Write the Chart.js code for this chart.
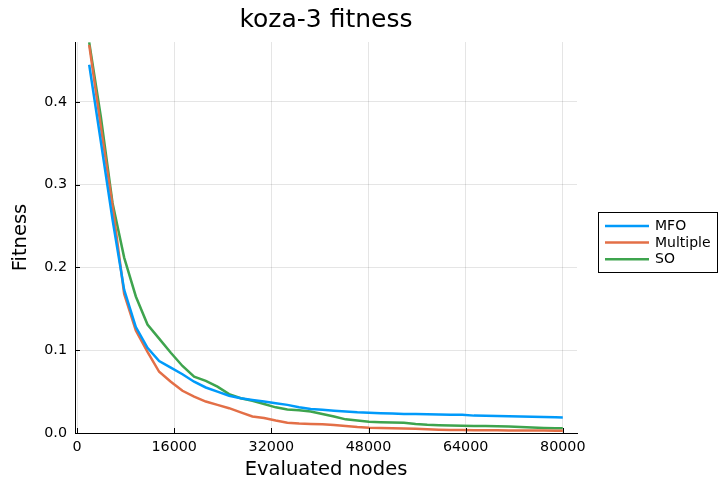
<!DOCTYPE html>
<html>
<head>
<meta charset="utf-8">
<script src="https://cdn.jsdelivr.net/npm/chart.js@4/dist/chart.umd.min.js"></script>
<style>
  html, body { margin: 0; padding: 0; background: #fff; }
  #wrap { width: 719px; height: 484px; }
</style>
</head>
<body>
<div id="wrap"><canvas id="c" width="719" height="484"></canvas></div>
<script>
// Evaluated nodes at each sample point
const evaluatedNodes = [2000, 3920, 5840, 7760, 9680, 11600, 13520, 15440, 17360, 19280,
  21200, 23120, 25040, 26960, 28880, 30800, 32720, 34640, 36560, 38480,
  40400, 42320, 44240, 46160, 48080, 50000, 51920, 53840, 55760, 57680,
  59600, 61520, 63440, 65360, 67280, 69200, 71120, 73040, 74960, 76880,
  78800, 80000];

// Mean fitness per method
const mfo = [0.445, 0.352, 0.258, 0.173, 0.128, 0.103, 0.087, 0.079, 0.071, 0.062,
  0.055, 0.050, 0.045, 0.042, 0.040, 0.038, 0.036, 0.034, 0.031, 0.029,
  0.028, 0.027, 0.026, 0.025, 0.0245, 0.024, 0.0235, 0.023, 0.023, 0.0228,
  0.0225, 0.0222, 0.022, 0.021, 0.0208, 0.0205, 0.0202, 0.0198, 0.0195, 0.0193,
  0.019, 0.0188];
const multiple = [0.469, 0.370, 0.275, 0.168, 0.124, 0.098, 0.074, 0.062, 0.051, 0.044,
  0.038, 0.034, 0.030, 0.025, 0.020, 0.018, 0.015, 0.0125, 0.0115, 0.011,
  0.0105, 0.0097, 0.0085, 0.0072, 0.0064, 0.006, 0.0058, 0.0055, 0.005, 0.0045,
  0.004, 0.0036, 0.0035, 0.0034, 0.0033, 0.0032, 0.0031, 0.003, 0.003, 0.0029,
  0.0028, 0.0028];
const so = [0.472, 0.382, 0.278, 0.212, 0.165, 0.131, 0.114, 0.097, 0.081, 0.068,
  0.063, 0.056, 0.047, 0.042, 0.039, 0.035, 0.031, 0.0285, 0.0275, 0.026,
  0.023, 0.020, 0.0165, 0.015, 0.0135, 0.013, 0.0128, 0.0125, 0.011, 0.010,
  0.0095, 0.009, 0.0088, 0.0086, 0.0085, 0.0082, 0.0078, 0.0072, 0.0065, 0.006,
  0.0058, 0.0057];

const seriesNames = ['MFO', 'Multiple', 'SO'];
const seriesColors = ['#009AFA', '#E36F47', '#3EA44E'];
const xTicks = [0, 16000, 32000, 48000, 64000, 80000];
const yTicks = [0, 0.1, 0.2, 0.3, 0.4];

const FONT = "'DejaVu Sans', 'Liberation Sans', sans-serif";
Chart.defaults.font.family = FONT;
Chart.defaults.color = '#000';

const toPoints = ys => evaluatedNodes.map((x, i) => ({ x: x, y: ys[i] }));

// Short tick marks pointing into the plot, plus the title and a boxed legend
const decorations = {
  id: 'decorations',
  afterDraw(chart) {
    const ctx = chart.ctx;
    const a = chart.chartArea;
    const xs = chart.scales.x, ys = chart.scales.y;
    ctx.save();
    ctx.strokeStyle = '#000';
    ctx.lineWidth = 1;
    ctx.beginPath();
    xTicks.forEach(v => {
      const px = Math.round(xs.getPixelForValue(v)) + 0.5;
      ctx.moveTo(px, a.bottom);
      ctx.lineTo(px, a.bottom - 5);
    });
    yTicks.forEach(v => {
      const py = Math.round(ys.getPixelForValue(v)) + 0.5;
      ctx.moveTo(a.left, py);
      ctx.lineTo(a.left + 5, py);
    });
    ctx.stroke();

    // title
    ctx.fillStyle = '#000';
    ctx.font = '25px ' + FONT;
    ctx.textAlign = 'center';
    ctx.textBaseline = 'alphabetic';
    ctx.fillText('koza-3 fitness', (a.left + a.right) / 2, 27);

    // legend
    const lx = 598.5, ly = 212.5, lw = 119, lh = 60;
    ctx.fillStyle = '#fff';
    ctx.fillRect(lx, ly, lw, lh);
    ctx.strokeStyle = '#000';
    ctx.lineWidth = 1;
    ctx.strokeRect(lx, ly, lw, lh);
    ctx.font = '14px ' + FONT;
    ctx.textAlign = 'left';
    ctx.textBaseline = 'middle';
    seriesNames.forEach((name, i) => {
      const ry = 226 + i * 16.6;
      ctx.strokeStyle = seriesColors[i];
      ctx.lineWidth = 2.5;
      ctx.beginPath();
      ctx.moveTo(605, ry);
      ctx.lineTo(649, ry);
      ctx.stroke();
      ctx.fillStyle = '#000';
      ctx.fillText(name, 655, ry + 0.5);
    });
    ctx.restore();
  }
};

new Chart(document.getElementById('c'), {
  type: 'line',
  data: {
    datasets: [mfo, multiple, so].map((ys, i) => ({
      label: seriesNames[i],
      data: toPoints(ys),
      borderColor: seriesColors[i],
      backgroundColor: seriesColors[i],
      borderWidth: 2.5,
      pointRadius: 0,
      tension: 0,
      fill: false
    }))
  },
  options: {
    responsive: false,
    devicePixelRatio: 1,
    animation: false,
    layout: { padding: { top: 42, right: 142, left: 0, bottom: 0 } },
    plugins: {
      legend: { display: false },
      title: { display: false },
      tooltip: { enabled: false }
    },
    scales: {
      x: {
        type: 'linear',
        min: -340,
        max: 82340,
        afterBuildTicks: s => { s.ticks = xTicks.map(v => ({ value: v })); },
        afterFit: s => { s.height = 51; },
        ticks: {
          callback: v => String(v),
          font: { size: 14.3 },
          color: '#000',
          padding: 6,
          maxRotation: 0,
          autoSkip: false
        },
        grid: { color: 'rgba(0,0,0,0.1)', lineWidth: 1, drawTicks: false },
        border: { display: true, color: '#000', width: 1 },
        title: {
          display: true,
          text: 'Evaluated nodes',
          font: { size: 19.5 },
          color: '#000',
          padding: { top: 0, bottom: 2 }
        }
      },
      y: {
        type: 'linear',
        min: 0,
        max: 0.4725,
        afterBuildTicks: s => { s.ticks = yTicks.map(v => ({ value: v })); },
        afterFit: s => { s.width = 75; },
        ticks: {
          callback: v => v.toFixed(1),
          font: { size: 14.3 },
          color: '#000',
          padding: 8
        },
        grid: { color: 'rgba(0,0,0,0.1)', lineWidth: 1, drawTicks: false },
        border: { display: true, color: '#000', width: 1 },
        title: {
          display: true,
          text: 'Fitness',
          font: { size: 19.5 },
          color: '#000',
          padding: { top: 9, bottom: 0 }
        }
      }
    }
  },
  plugins: [decorations]
});
</script>
</body>
</html>
